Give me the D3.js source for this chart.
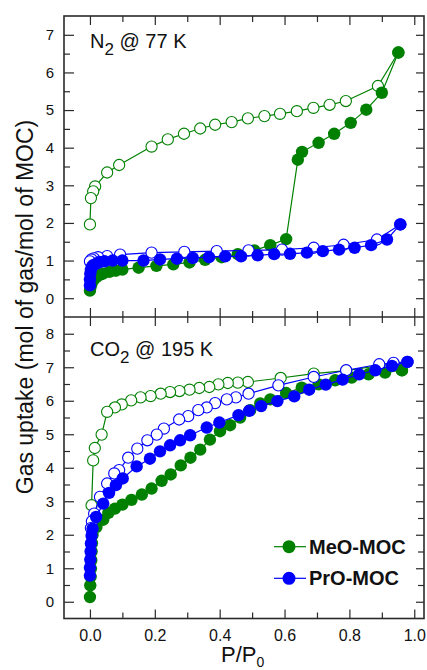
<!DOCTYPE html>
<html>
<head>
<meta charset="utf-8">
<script src="https://cdn.jsdelivr.net/npm/d3@7"></script>
<style>
  html, body { margin: 0; padding: 0; background: #fff; }
  svg { display: block; font-family: "Liberation Sans", Arial, sans-serif; }
</style>
</head>
<body>
<svg id="chart" width="427" height="670"></svg>
<script>
// ---------- data (x = P/P0, y = mol of gas / mol of MOC) ----------
const xTicks = [0, 0.2, 0.4, 0.6, 0.8, 1.0];
const xTickLabels = ["0.0", "0.2", "0.4", "0.6", "0.8", "1.0"];
const yTicksTop = [0, 1, 2, 3, 4, 5, 6, 7];
const yTicksBottom = [0, 1, 2, 3, 4, 5, 6, 7, 8];
const seriesNames = ["MeO-MOC", "PrO-MOC"];
const seriesColors = ["#008000", "#0000ff"];

// N2 @ 77 K
const n2MeOAds = [[0.0,0.20],[0.002,0.30],[0.005,0.40],[0.01,0.48],[0.02,0.56],[0.03,0.62],[0.04,0.65],[0.06,0.70],[0.08,0.73],[0.10,0.76],[0.15,0.81],[0.205,0.86],[0.257,0.90],[0.307,0.95],[0.355,1.02],[0.406,1.09],[0.456,1.17],[0.507,1.27],[0.556,1.41],[0.605,1.57],[0.641,3.68],[0.654,3.89],[0.705,4.13],[0.753,4.37],[0.804,4.66],[0.852,5.01],[0.90,5.46],[0.951,6.53]];
const n2MeODes = [[0.951,6.53],[0.888,5.64],[0.789,5.24],[0.739,5.14],[0.689,5.06],[0.638,4.97],[0.586,4.90],[0.538,4.84],[0.487,4.78],[0.437,4.68],[0.386,4.61],[0.34,4.51],[0.29,4.37],[0.24,4.22],[0.19,4.03],[0.09,3.54],[0.053,3.34],[0.016,2.97],[0.01,2.84],[0.003,2.66],[0.0,1.96]];
const n2PrOAds = [[0.0,0.34],[0.0,0.50],[0.001,0.65],[0.003,0.75],[0.006,0.83],[0.01,0.88],[0.02,0.92],[0.03,0.96],[0.045,0.98],[0.07,1.00],[0.10,1.00],[0.165,1.00],[0.216,1.03],[0.268,1.05],[0.317,1.07],[0.367,1.09],[0.417,1.11],[0.466,1.11],[0.517,1.14],[0.568,1.17],[0.617,1.18],[0.669,1.21],[0.718,1.25],[0.768,1.29],[0.816,1.34],[0.867,1.41],[0.916,1.56],[0.957,1.96]];
const n2PrODes = [[0.957,1.96],[0.885,1.56],[0.782,1.42],[0.69,1.34],[0.592,1.29],[0.489,1.27],[0.391,1.25],[0.291,1.23],[0.19,1.21],[0.093,1.16],[0.053,1.12],[0.025,1.09],[0.012,1.06],[0.005,1.03],[0.0,0.98]];

// CO2 @ 195 K
const co2MeOAds = [[0.0,0.14],[0.001,0.49],[0.002,0.74],[0.003,0.99],[0.004,1.24],[0.005,1.50],[0.006,1.75],[0.008,1.99],[0.02,2.23],[0.041,2.45],[0.057,2.65],[0.077,2.78],[0.10,2.90],[0.128,3.04],[0.16,3.20],[0.19,3.38],[0.221,3.61],[0.249,3.80],[0.28,4.07],[0.31,4.30],[0.34,4.54],[0.37,4.84],[0.401,5.09],[0.432,5.27],[0.463,5.50],[0.494,5.72],[0.525,5.92],[0.556,6.04],[0.605,6.23],[0.653,6.39],[0.705,6.49],[0.756,6.61],[0.807,6.69],[0.859,6.79],[0.91,6.84],[0.962,6.91]];
const co2MeODes = [[0.962,6.91],[0.936,7.10],[0.892,7.05],[0.79,6.90],[0.69,6.81],[0.588,6.68],[0.487,6.56],[0.456,6.54],[0.425,6.53],[0.396,6.49],[0.368,6.41],[0.337,6.38],[0.307,6.33],[0.276,6.29],[0.247,6.26],[0.218,6.21],[0.187,6.14],[0.156,6.10],[0.127,6.01],[0.098,5.89],[0.077,5.80],[0.053,5.67],[0.036,4.99],[0.015,4.59],[0.01,4.22],[0.005,2.88]];
const co2PrOAds = [[0.0,0.78],[0.0,1.02],[0.001,1.26],[0.002,1.50],[0.003,1.74],[0.005,1.97],[0.008,2.18],[0.019,2.53],[0.041,2.93],[0.059,3.25],[0.08,3.48],[0.101,3.68],[0.144,4.04],[0.185,4.27],[0.216,4.49],[0.247,4.67],[0.278,4.82],[0.309,4.97],[0.36,5.20],[0.399,5.35],[0.458,5.57],[0.491,5.70],[0.528,5.84],[0.578,5.99],[0.63,6.13],[0.676,6.33],[0.727,6.48],[0.779,6.63],[0.83,6.79],[0.88,6.91],[0.931,7.04],[0.979,7.16]];
const co2PrODes = [[0.979,7.16],[0.936,7.13],[0.892,7.09],[0.79,6.91],[0.69,6.71],[0.581,6.46],[0.489,6.21],[0.45,6.10],[0.422,6.04],[0.386,5.93],[0.36,5.80],[0.334,5.72],[0.303,5.54],[0.275,5.44],[0.228,5.17],[0.206,4.99],[0.177,4.82],[0.146,4.57],[0.118,4.30],[0.09,3.93],[0.075,3.83],[0.053,3.53],[0.031,3.13],[0.013,2.63],[0.006,2.40],[0.003,2.20]];

// ---------- layout ----------
const svg = d3.select("#chart");
const left = 64, right = 424;
const topY0 = 16, midY = 317, botY1 = 618.5;
const frameColor = "#2a2a2a";

const x = d3.scaleLinear().domain([-0.08, 1.03]).range([left, right]);
const yTop = d3.scaleLinear().domain([-0.5, 7.5]).range([midY, topY0]);
const yBot = d3.scaleLinear().domain([-0.5, 8.5]).range([botY1, midY]);

function halfSteps(maxV) { const a = []; for (let v = -0.5; v <= maxV; v += 1) a.push(v); return a; }
const xMinor = [0.1, 0.3, 0.5, 0.7, 0.9];

function styleAxis(g) {
  g.select(".domain").remove();
  g.selectAll(".tick line").attr("stroke", frameColor).attr("stroke-width", 1.2);
  g.selectAll(".tick text").attr("fill", "#111");
}

function panel(y, yTicks, yMaxMinor, yTop0, yBottom0, showX) {
  const minor = halfSteps(yMaxMinor).filter(v => v > y.domain()[0] && v < y.domain()[1]);
  svg.append("g").attr("transform", `translate(${left},0)`)
    .call(d3.axisLeft(y).tickValues(yTicks).tickFormat(d3.format("d")).tickSize(-10).tickPadding(10))
    .call(styleAxis)
    .call(g => g.selectAll(".tick text").attr("font-size", 15));
  svg.append("g").attr("transform", `translate(${left},0)`)
    .call(d3.axisLeft(y).tickValues(minor).tickFormat("").tickSize(-6))
    .call(styleAxis);
  svg.append("g").attr("transform", `translate(${right},0)`)
    .call(d3.axisRight(y).tickValues(yTicks).tickFormat("").tickSize(-8))
    .call(styleAxis);
  svg.append("g").attr("transform", `translate(${right},0)`)
    .call(d3.axisRight(y).tickValues(minor).tickFormat("").tickSize(-6))
    .call(styleAxis);
  svg.append("g").attr("transform", `translate(0,${yTop0})`)
    .call(d3.axisTop(x).tickValues(xTicks).tickFormat("").tickSize(-9))
    .call(styleAxis);
  svg.append("g").attr("transform", `translate(0,${yTop0})`)
    .call(d3.axisTop(x).tickValues(xMinor).tickFormat("").tickSize(-6))
    .call(styleAxis);
  svg.append("g").attr("transform", `translate(0,${yBottom0})`)
    .call(d3.axisBottom(x).tickValues(xTicks).tickFormat((d, i) => showX ? xTickLabels[i] : "").tickSize(-9).tickPadding(11))
    .call(styleAxis)
    .call(g => g.selectAll(".tick text").attr("font-size", 16));
  svg.append("g").attr("transform", `translate(0,${yBottom0})`)
    .call(d3.axisBottom(x).tickValues(xMinor).tickFormat("").tickSize(-6))
    .call(styleAxis);
}

panel(yTop, yTicksTop, 7.5, topY0, midY, false);
panel(yBot, yTicksBottom, 8.5, midY, botY1, true);

// frames
svg.append("rect").attr("x", left).attr("y", topY0).attr("width", right - left).attr("height", botY1 - topY0)
  .attr("fill", "none").attr("stroke", frameColor).attr("stroke-width", 1.6);
svg.append("line").attr("x1", left).attr("x2", right).attr("y1", midY).attr("y2", midY)
  .attr("stroke", frameColor).attr("stroke-width", 1.6);

// ---------- series ----------
function drawSeries(data, y, color, filled) {
  const line = d3.line().x(d => x(d[0])).y(d => y(d[1]));
  const g = svg.append("g");
  g.append("path").attr("d", line(data)).attr("fill", "none").attr("stroke", color).attr("stroke-width", 1.2);
  g.selectAll("circle").data(data).join("circle")
    .attr("cx", d => x(d[0])).attr("cy", d => y(d[1]))
    .attr("r", filled ? 6.2 : 5.6)
    .attr("fill", filled ? color : "#fff")
    .attr("stroke", color).attr("stroke-width", filled ? 0 : 1.1);
}

drawSeries(n2MeODes, yTop, seriesColors[0], false);
drawSeries(n2MeOAds, yTop, seriesColors[0], true);
drawSeries(n2PrODes, yTop, seriesColors[1], false);
drawSeries(n2PrOAds, yTop, seriesColors[1], true);

drawSeries(co2MeODes, yBot, seriesColors[0], false);
drawSeries(co2MeOAds, yBot, seriesColors[0], true);
drawSeries(co2PrODes, yBot, seriesColors[1], false);
drawSeries(co2PrOAds, yBot, seriesColors[1], true);

// ---------- labels ----------
const t1 = svg.append("text").attr("x", 90).attr("y", 48).attr("font-size", 20).attr("fill", "#111");
t1.append("tspan").text("N");
t1.append("tspan").attr("dy", 7).attr("font-size", 17).text("2");
t1.append("tspan").attr("dy", -7).text(" @ 77 K");

const t2 = svg.append("text").attr("x", 90).attr("y", 356).attr("font-size", 20).attr("fill", "#111");
t2.append("tspan").text("CO");
t2.append("tspan").attr("dy", 7).attr("font-size", 17).text("2");
t2.append("tspan").attr("dy", -7).text(" @ 195 K");

svg.append("text")
  .attr("transform", "translate(33,307) rotate(-90)")
  .attr("text-anchor", "middle").attr("font-size", 23).attr("fill", "#111")
  .text("Gas uptake (mol of gas/mol of MOC)");

const xt = svg.append("text").attr("x", 221).attr("y", 662).attr("font-size", 22).attr("fill", "#111");
xt.append("tspan").text("P/P");
xt.append("tspan").attr("dy", 5).attr("font-size", 14).text("0");

const legY = [546.7, 578.3];
seriesNames.forEach((name, i) => {
  const g = svg.append("g");
  g.append("line").attr("x1", 274).attr("x2", 306).attr("y1", legY[i]).attr("y2", legY[i])
    .attr("stroke", seriesColors[i]).attr("stroke-width", 1.2);
  g.append("circle").attr("cx", 289).attr("cy", legY[i]).attr("r", 6.5).attr("fill", seriesColors[i]);
  g.append("text").attr("x", 309).attr("y", legY[i] + 7).attr("font-size", 20).attr("font-weight", "bold")
    .attr("fill", "#111").text(name);
});
</script>
</body>
</html>
